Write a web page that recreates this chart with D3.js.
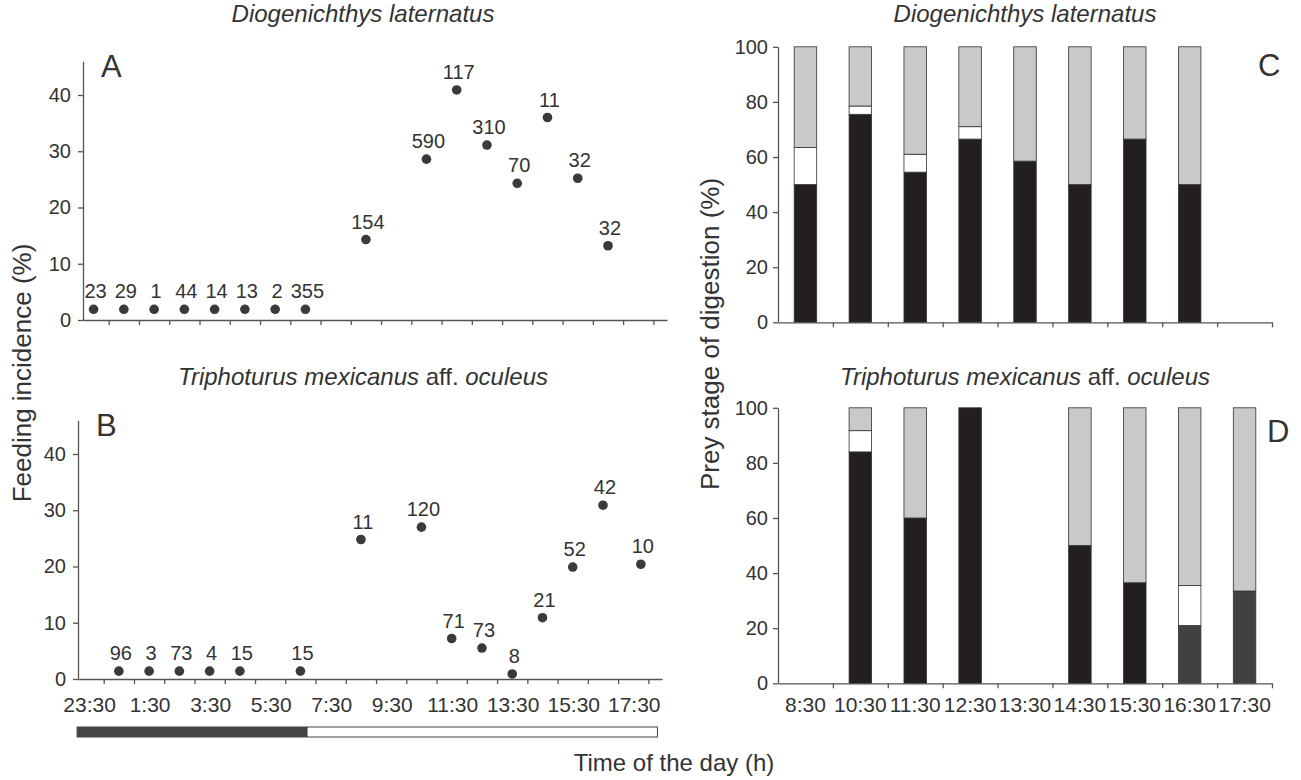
<html>
<head>
<script src="https://cdn.jsdelivr.net/npm/d3@7"></script>
<style>
  body { margin: 0; background: #fff; }
  svg { display: block; }
  text { font-family: "Liberation Sans", Arial, sans-serif; fill: #333; }
  .axis path, .axis line { stroke: #555; stroke-width: 1.3; }
  .axis text { font-size: 20px; fill: #333; font-family: "Liberation Sans", Arial, sans-serif; }
  .title { font-size: 24px; font-style: italic; }
  .letter { font-size: 31px; }
  .label { font-size: 26px; }
  .nlab { font-size: 20px; }
</style>
</head>
<body>
<svg width="1301" height="780"></svg>
<script>
// feeding incidence, panel A (Diogenichthys laternatus)
const hoursA = [23.5, 24.5, 25.5, 26.5, 27.5, 28.5, 29.5, 30.5, 32.5, 34.5, 35.5, 36.5, 37.5, 38.5, 39.5, 40.5];
const incidenceA = [1.9, 1.9, 1.9, 1.9, 1.9, 1.9, 1.9, 1.9, 14.3, 28.6, 40.9, 31.1, 24.3, 36.0, 25.2, 13.2];
const nA = [23, 29, 1, 44, 14, 13, 2, 355, 154, 590, 117, 310, 70, 11, 32, 32];

// panel B (Triphoturus mexicanus aff. oculeus)
const hoursB = [24.5, 25.5, 26.5, 27.5, 28.5, 30.5, 32.5, 34.5, 35.5, 36.5, 37.5, 38.5, 39.5, 40.5, 41.75];
const incidenceB = [1.4, 1.4, 1.4, 1.4, 1.4, 1.4, 24.8, 27.0, 7.2, 5.5, 0.9, 10.9, 19.9, 30.9, 20.4];
const nB = [96, 3, 73, 4, 15, 15, 11, 120, 71, 73, 8, 21, 52, 42, 10];

const timeLabels = ['23:30', '1:30', '3:30', '5:30', '7:30', '9:30', '11:30', '13:30', '15:30', '17:30'];
const timeLabelHours = [23.5, 25.5, 27.5, 29.5, 31.5, 33.5, 35.5, 37.5, 39.5, 41.5];
const nightDay = [[23.12, 30.72, 'night'], [30.72, 42.3, 'day']];

// prey stage of digestion, panels C and D
const slots = ['8:30', '10:30', '11:30', '12:30', '13:30', '14:30', '15:30', '16:30', '17:30'];
const blackC = [50, 75.5, 54.5, 66.5, 58.5, 50, 66.5, 50, 0];
const darkC  = [0, 0, 0, 0, 0, 0, 0, 0, 0];
const whiteC = [13.5, 3, 6.5, 4.5, 0, 0, 0, 0, 0];
const grayC  = [36.5, 21.5, 39, 29, 41.5, 50, 33.5, 50, 0];

const blackD = [0, 84, 60, 100, 0, 50, 36.5, 0, 0];
const darkD  = [0, 0, 0, 0, 0, 0, 0, 21, 33.5];
const whiteD = [0, 7.7, 0, 0, 0, 0, 0, 14.5, 0];
const grayD  = [0, 8.3, 40, 0, 0, 50, 63.5, 64.5, 66.5];

const stageKeys = ['black', 'dark', 'white', 'gray'];
const stageColor = { black: '#231f20', dark: '#414141', white: '#ffffff', gray: '#c8c9cb' };

const svg = d3.select('svg');

function scatterPanel(p) {
  const x = d3.scaleLinear().domain([23.15, 42.45]).range([p.left, p.right]);
  const y = d3.scaleLinear().domain([0, 46]).range([p.bottom, p.bottom - 258.75]);
  const g = svg.append('g');

  g.append('g')
    .attr('class', 'axis')
    .attr('transform', `translate(${p.left}, 0)`)
    .call(d3.axisLeft(y).tickValues([0, 10, 20, 30, 40]).tickSize(5).tickSizeOuter(0).tickPadding(7));

  g.append('g')
    .attr('class', 'axis')
    .attr('transform', `translate(0, ${p.bottom})`)
    .call(d3.axisBottom(x).tickValues(d3.range(24, 43)).tickSize(5).tickSizeOuter(0).tickFormat(''));

  const pts = p.hours.map((h, i) => ({ h: h, v: p.values[i], n: p.n[i] }));

  g.selectAll('circle')
    .data(pts)
    .enter()
    .append('circle')
    .attr('cx', (d) => x(d.h))
    .attr('cy', (d) => y(d.v))
    .attr('r', 4.8)
    .attr('fill', '#3a3a3a');

  g.selectAll('text.nlab')
    .data(pts)
    .enter()
    .append('text')
    .attr('class', 'nlab')
    .attr('x', (d) => x(d.h) + 2)
    .attr('y', (d) => y(d.v) - 11)
    .attr('text-anchor', 'middle')
    .text((d) => d.n);

  g.append('text')
    .attr('class', 'letter')
    .attr('x', p.left + 18)
    .attr('y', p.bottom - 243)
    .text(p.letter);

  g.append('text')
    .attr('class', 'title')
    .attr('x', 363)
    .attr('y', p.titleY)
    .attr('text-anchor', 'middle')
    .html(p.title);

  return x;
}

scatterPanel({
  left: 83, right: 667, bottom: 320, letter: 'A', titleY: 22,
  hours: hoursA, values: incidenceA, n: nA,
  title: 'Diogenichthys laternatus'
});

const xB = scatterPanel({
  left: 78, right: 662, bottom: 679, letter: 'B', titleY: 385,
  hours: hoursB, values: incidenceB, n: nB,
  title: 'Triphoturus mexicanus <tspan font-style="normal">aff.</tspan> oculeus'
});

svg.selectAll('text.tlab')
  .data(timeLabels)
  .enter()
  .append('text')
  .attr('class', 'tlab')
  .attr('x', (d, i) => xB(timeLabelHours[i]) + 1)
  .attr('y', 712)
  .attr('text-anchor', 'middle')
  .style('font-size', '21px')
  .text((d) => d);

svg.selectAll('rect.nd')
  .data(nightDay)
  .enter()
  .append('rect')
  .attr('class', 'nd')
  .attr('x', (d) => xB(d[0]))
  .attr('y', 727)
  .attr('width', (d) => xB(d[1]) - xB(d[0]))
  .attr('height', 10)
  .attr('fill', (d) => d[2] === 'night' ? '#444' : '#fff')
  .attr('stroke', '#444')
  .attr('stroke-width', 1);

function barPanel(p) {
  const x = d3.scaleBand().domain(slots).range([778, 1272]).paddingInner(0.59).paddingOuter(0.295);
  const xt = d3.scaleLinear().domain([0, 9]).range([778, 1272]);
  const y = d3.scaleLinear().domain([0, 100]).range([p.bottom, p.bottom - 275.5]);
  const g = svg.append('g');

  const rows = slots.map((s, i) => ({
    slot: s, black: p.black[i], dark: p.dark[i], white: p.white[i], gray: p.gray[i]
  }));
  const series = d3.stack().keys(stageKeys)(rows);

  series.forEach((ser) => {
    g.selectAll(null)
      .data(ser.filter((d) => d[1] - d[0] > 0))
      .enter()
      .append('rect')
      .attr('x', (d) => x(d.data.slot))
      .attr('y', (d) => y(d[1]))
      .attr('width', x.bandwidth())
      .attr('height', (d) => y(d[0]) - y(d[1]))
      .attr('fill', stageColor[ser.key])
      .attr('stroke', '#333')
      .attr('stroke-width', 0.8);
  });

  g.append('g')
    .attr('class', 'axis')
    .attr('transform', 'translate(778, 0)')
    .call(d3.axisLeft(y).tickValues([0, 20, 40, 60, 80, 100]).tickSize(5).tickSizeOuter(0).tickPadding(5));

  g.append('g')
    .attr('class', 'axis')
    .attr('transform', `translate(0, ${p.bottom})`)
    .call(d3.axisBottom(xt).tickValues(d3.range(1, 10)).tickSize(5).tickSizeOuter(0).tickFormat(''));

  if (p.labels) {
    g.selectAll('text.slab')
      .data(slots)
      .enter()
      .append('text')
      .attr('x', (d) => x(d) + x.bandwidth() / 2)
      .attr('y', p.bottom + 29)
      .attr('text-anchor', 'middle')
      .style('font-size', '21px')
      .text((d) => d);
  }

  g.append('text')
    .attr('class', 'letter')
    .attr('x', p.letterX)
    .attr('y', p.bottom - p.letterUp)
    .text(p.letter);

  g.append('text')
    .attr('class', 'title')
    .attr('x', 1025)
    .attr('y', p.titleY)
    .attr('text-anchor', 'middle')
    .html(p.title);
}

barPanel({
  bottom: 322.3, black: blackC, dark: darkC, white: whiteC, gray: grayC,
  letter: 'C', letterX: 1258, letterUp: 246, titleY: 22, labels: false,
  title: 'Diogenichthys laternatus'
});

barPanel({
  bottom: 683.3, black: blackD, dark: darkD, white: whiteD, gray: grayD,
  letter: 'D', letterX: 1267, letterUp: 241, titleY: 385, labels: true,
  title: 'Triphoturus mexicanus <tspan font-style="normal">aff.</tspan> oculeus'
});

svg.append('text')
  .attr('class', 'label')
  .attr('transform', 'translate(31, 373) rotate(-90)')
  .attr('text-anchor', 'middle')
  .text('Feeding incidence (%)');

svg.append('text')
  .attr('class', 'label')
  .attr('transform', 'translate(719, 334) rotate(-90)')
  .attr('text-anchor', 'middle')
  .text('Prey stage of digestion (%)');

svg.append('text')
  .attr('class', 'label')
  .attr('x', 674)
  .attr('y', 771)
  .attr('text-anchor', 'middle')
  .style('font-size', '24px')
  .text('Time of the day (h)');
</script>
</body>
</html>
